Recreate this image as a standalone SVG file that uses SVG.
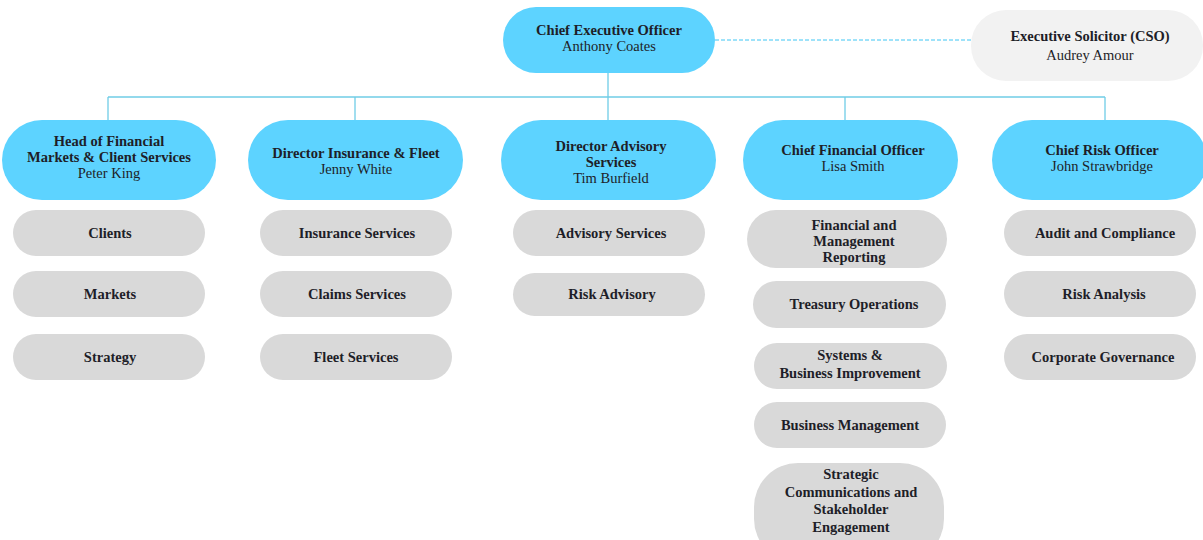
<svg xmlns="http://www.w3.org/2000/svg" width="1203" height="540" viewBox="0 0 1203 540">
  <style>
    .lead { fill: #5dd3ff; }
    .side { fill: #f2f2f2; }
    .unit { fill: #d9d9d9; }
    text { font-family: "Liberation Serif", "DejaVu Serif", serif; font-size: 14.5px; fill: #1e1e28; text-anchor: middle; }
    .b { font-weight: bold; }
    .link { stroke: #6fcde6; stroke-width: 1.3; fill: none; }
    .dash { stroke: #3ec6f4; stroke-width: 1; stroke-dasharray: 4 2; fill: none; }
  </style>
  <rect width="1203" height="540" fill="#ffffff"/>

  <g id="connectors">
    <path class="dash" d="M715 40 H971"/>
    <path class="link" d="M608 73 V120"/>
    <path class="link" d="M108 97 H1105"/>
    <path class="link" d="M108 97 V120"/>
    <path class="link" d="M355 97 V120"/>
    <path class="link" d="M845 97 V120"/>
    <path class="link" d="M1105 97 V120"/>
  </g>

  <g id="ceo">
    <rect class="lead" x="503" y="7" width="212" height="66" rx="33"/>
    <text class="b" x="609" y="35">Chief Executive Officer</text>
    <text x="609" y="51">Anthony Coates</text>
  </g>

  <g id="cso">
    <rect class="side" x="971" y="10" width="232" height="71" rx="35"/>
    <text class="b" x="1090" y="41">Executive Solicitor (CSO)</text>
    <text x="1090" y="60">Audrey Amour</text>
  </g>

  <g id="head-markets">
    <rect class="lead" x="2" y="120" width="214" height="80" rx="40"/>
    <text class="b" x="109" y="146">Head of Financial</text>
    <text class="b" x="109" y="162">Markets &amp; Client Services</text>
    <text x="109" y="178">Peter King</text>
  </g>

  <g id="director-insurance">
    <rect class="lead" x="248" y="120" width="215" height="80" rx="40"/>
    <text class="b" x="356" y="158">Director Insurance &amp; Fleet</text>
    <text x="356" y="174">Jenny White</text>
  </g>

  <g id="director-advisory">
    <rect class="lead" x="501" y="120" width="215" height="80" rx="40"/>
    <text class="b" x="611" y="151">Director Advisory</text>
    <text class="b" x="611" y="167">Services</text>
    <text x="611" y="183">Tim Burfield</text>
  </g>

  <g id="cfo">
    <rect class="lead" x="743" y="120" width="215" height="80" rx="40"/>
    <text class="b" x="853" y="155">Chief Financial Officer</text>
    <text x="853" y="171">Lisa Smith</text>
  </g>

  <g id="cro">
    <rect class="lead" x="992" y="120" width="215" height="80" rx="40"/>
    <text class="b" x="1102" y="155">Chief Risk Officer</text>
    <text x="1102" y="171">John Strawbridge</text>
  </g>

  <g id="clients"><rect class="unit" x="13" y="210" width="192" height="46" rx="23"/><text class="b" x="110" y="238">Clients</text></g>
  <g id="markets"><rect class="unit" x="13" y="271" width="192" height="46" rx="23"/><text class="b" x="110" y="299">Markets</text></g>
  <g id="strategy"><rect class="unit" x="13" y="334" width="192" height="46" rx="23"/><text class="b" x="110" y="362">Strategy</text></g>

  <g id="insurance-services"><rect class="unit" x="260" y="210" width="192" height="46" rx="23"/><text class="b" x="357" y="238">Insurance Services</text></g>
  <g id="claims-services"><rect class="unit" x="260" y="271" width="192" height="46" rx="23"/><text class="b" x="357" y="299">Claims Services</text></g>
  <g id="fleet-services"><rect class="unit" x="260" y="334" width="192" height="46" rx="23"/><text class="b" x="356" y="362">Fleet Services</text></g>

  <g id="advisory-services"><rect class="unit" x="513" y="210" width="192" height="46" rx="23"/><text class="b" x="611" y="238">Advisory Services</text></g>
  <g id="risk-advisory"><rect class="unit" x="513" y="273" width="192" height="43" rx="21.5"/><text class="b" x="612" y="299">Risk Advisory</text></g>

  <g id="financial-reporting">
    <rect class="unit" x="747" y="210" width="200" height="58" rx="29"/>
    <text class="b" x="854" y="230">Financial and</text>
    <text class="b" x="854" y="246">Management</text>
    <text class="b" x="854" y="262">Reporting</text>
  </g>
  <g id="treasury-operations"><rect class="unit" x="753" y="281" width="193" height="47" rx="23.5"/><text class="b" x="854" y="309">Treasury Operations</text></g>
  <g id="systems-improvement">
    <rect class="unit" x="754" y="343" width="193" height="46" rx="23"/>
    <text class="b" x="850" y="360">Systems &amp;</text>
    <text class="b" x="850" y="378">Business Improvement</text>
  </g>
  <g id="business-management"><rect class="unit" x="754" y="402" width="192" height="46" rx="23"/><text class="b" x="850" y="430">Business Management</text></g>
  <g id="strategic-communications">
    <rect class="unit" x="754" y="463" width="190" height="100" rx="44"/>
    <text class="b" x="851" y="479">Strategic</text>
    <text class="b" x="851" y="497">Communications and</text>
    <text class="b" x="851" y="514">Stakeholder</text>
    <text class="b" x="851" y="532">Engagement</text>
  </g>

  <g id="audit-compliance"><rect class="unit" x="1004" y="210" width="192" height="46" rx="23"/><text class="b" x="1105" y="238">Audit and Compliance</text></g>
  <g id="risk-analysis"><rect class="unit" x="1004" y="271" width="192" height="46" rx="23"/><text class="b" x="1104" y="299">Risk Analysis</text></g>
  <g id="corporate-governance"><rect class="unit" x="1004" y="334" width="192" height="46" rx="23"/><text class="b" x="1103" y="362">Corporate Governance</text></g>
</svg>
